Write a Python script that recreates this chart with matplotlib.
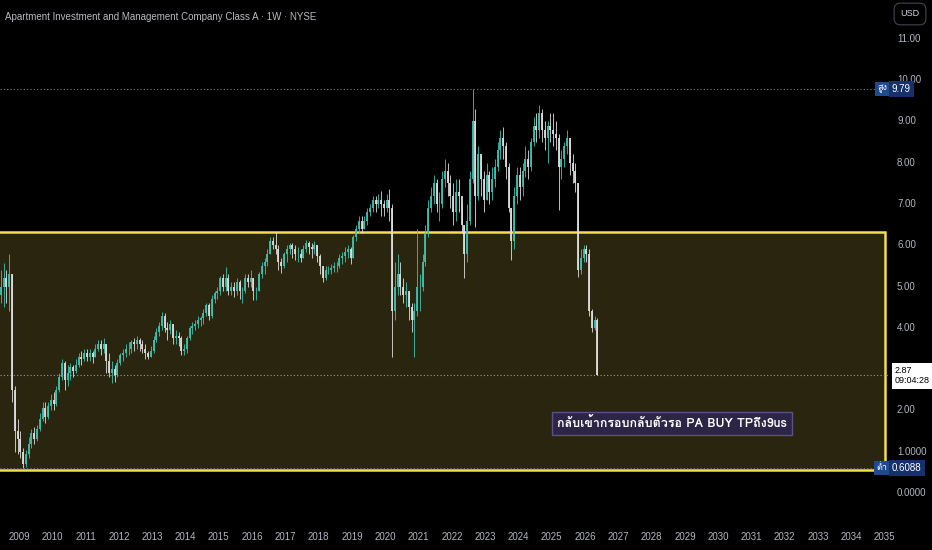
import numpy as np
import matplotlib
matplotlib.use('Agg')
import matplotlib.pyplot as plt
from matplotlib import font_manager
from matplotlib.ft2font import FT2Font
from matplotlib.patches import Rectangle

# weekly chart, kept as one candle per month
start_year = 2008
start_month = 6
first_open = 4.8

closes = np.array([
    5.0, 5.2, 5.0, 5.3, 2.5, 1.5, 1.3,                                   # 2008 Jun-Dec
    1.0, 0.7, 0.95, 1.2, 1.45, 1.3, 1.55, 1.8, 2.05, 1.85, 2.1, 2.25,     # 2009
    2.15, 2.5, 2.8, 3.15, 2.75, 2.9, 3.05, 2.95, 3.1, 3.3, 3.25, 3.4,     # 2010
    3.3, 3.4, 3.3, 3.5, 3.6, 3.5, 3.6, 3.2, 2.9, 3.0, 2.85, 3.15,         # 2011
    3.35, 3.4, 3.5, 3.5, 3.65, 3.6, 3.7, 3.6, 3.5, 3.4, 3.3, 3.45,       # 2012
    3.7, 3.9, 4.05, 4.3, 4.0, 3.95, 4.1, 3.75, 3.8, 3.75, 3.45, 3.5,     # 2013
    3.75, 4.0, 4.05, 4.1, 4.2, 4.25, 4.35, 4.55, 4.3, 4.7, 4.85, 4.9,    # 2014
    5.2, 5.0, 5.2, 4.9, 5.0, 4.9, 5.1, 4.9, 4.9, 5.2, 5.1, 5.2,          # 2015
    4.9, 4.9, 5.3, 5.5, 5.6, 5.8, 6.1, 6.0, 5.9, 5.6, 5.5, 5.8,          # 2016
    5.9, 6.0, 5.9, 5.8, 5.8, 5.7, 5.9, 6.05, 5.95, 5.9, 6.0, 5.75,       # 2017
    5.5, 5.2, 5.4, 5.4, 5.45, 5.5, 5.5, 5.7, 5.75, 5.85, 5.9, 5.7,       # 2018
    6.2, 6.4, 6.6, 6.4, 6.6, 6.8, 6.9, 7.1, 7.0, 7.1, 7.0, 6.9,          # 2019
    7.1, 6.9, 4.4, 5.0, 5.3, 5.0, 4.8, 4.9, 4.5, 4.2, 4.4, 5.0,          # 2020
    5.0, 5.6, 6.3, 6.9, 7.2, 7.5, 7.0, 7.0, 7.6, 7.8, 7.5, 7.2,          # 2021
    6.8, 7.3, 7.2, 6.5, 5.8, 6.6, 7.6, 9.0, 7.2, 8.2, 7.6, 7.1,          # 2022
    7.7, 7.3, 7.6, 7.9, 8.3, 8.6, 8.4, 7.9, 6.9, 6.1, 7.2, 7.7,          # 2023
    7.4, 7.8, 8.1, 7.9, 8.5, 8.9, 8.8, 9.2, 8.8, 8.6, 8.9, 8.8,          # 2024
    8.7, 8.6, 7.9, 8.1, 8.4, 8.6, 8.0, 7.8, 7.5, 5.4, 5.7, 5.9,          # 2025
    5.8, 4.4, 4.0, 4.2, 2.87,                                            # 2026 Jan-May
])
highs = np.array([
    5.4, 5.57, 5.4, 5.79, 5.3, 2.6, 1.8,
    1.5, 1.1, 1.05, 1.35, 1.55, 1.6, 1.65, 1.95, 2.2, 2.2, 2.2, 2.4,
    2.45, 2.6, 2.9, 3.25, 3.2, 3.1, 3.15, 3.1, 3.25, 3.4, 3.45, 3.5,
    3.5, 3.5, 3.45, 3.6, 3.7, 3.7, 3.75, 3.6, 3.4, 3.2, 3.1, 3.25,
    3.4, 3.5, 3.6, 3.65, 3.7, 3.75, 3.8, 3.75, 3.7, 3.6, 3.45, 3.55,
    3.8, 4.0, 4.15, 4.38, 4.35, 4.15, 4.2, 4.1, 3.95, 3.9, 3.8, 3.6,
    3.8, 4.05, 4.15, 4.2, 4.3, 4.3, 4.45, 4.6, 4.6, 4.8, 4.9, 5.0,
    5.25, 5.3, 5.47, 5.3, 5.1, 5.1, 5.2, 5.15, 5.0, 5.3, 5.3, 5.4,
    5.2, 5.0, 5.35, 5.6, 5.7, 5.9, 6.2, 6.2, 6.32, 6.0, 5.7, 5.85,
    6.0, 6.05, 6.05, 6.0, 5.95, 5.9, 6.0, 6.12, 6.1, 6.05, 6.1, 6.0,
    5.8, 5.5, 5.5, 5.5, 5.55, 5.6, 5.6, 5.8, 5.85, 5.95, 6.0, 5.95,
    6.25, 6.5, 6.7, 6.7, 6.7, 6.9, 7.0, 7.2, 7.2, 7.25, 7.31, 7.1,
    7.25, 7.36, 7.0, 5.6, 5.8, 5.6, 5.2, 5.1, 4.9, 4.6, 4.6, 6.4,
    5.3, 5.8, 6.5, 7.1, 7.4, 7.7, 7.6, 7.3, 7.8, 8.1, 8.0, 7.7,
    7.5, 7.6, 7.6, 7.0, 6.5, 7.0, 7.8, 9.79, 9.3, 8.4, 8.2, 7.8,
    8.0, 7.8, 7.9, 8.1, 8.5, 8.8, 8.86, 8.5, 8.0, 6.9, 7.4, 7.9,
    7.9, 8.0, 8.4, 8.3, 8.6, 9.1, 9.2, 9.4, 9.3, 9.0, 9.0, 9.2,
    9.2, 9.0, 8.7, 8.3, 8.5, 8.8, 8.6, 8.2, 8.0, 7.5, 5.9, 6.0,
    6.0, 5.9, 4.45, 4.3, 4.25,
])
lows = np.array([
    4.6, 4.5, 4.6, 4.4, 2.2, 1.0, 0.95,
    0.85, 0.6088, 0.62, 0.85, 1.1, 1.2, 1.25, 1.5, 1.75, 1.7, 1.8, 2.0,
    2.0, 2.1, 2.45, 2.75, 2.5, 2.6, 2.75, 2.8, 2.9, 3.05, 3.1, 3.2,
    3.2, 3.2, 3.15, 3.3, 3.45, 3.35, 3.4, 2.9, 2.8, 2.66, 2.7, 2.8,
    3.1, 3.2, 3.3, 3.35, 3.4, 3.45, 3.5, 3.45, 3.4, 3.25, 3.25, 3.3,
    3.4, 3.65, 3.8, 3.95, 3.9, 3.7, 3.85, 3.6, 3.6, 3.55, 3.34, 3.35,
    3.4, 3.7, 3.85, 3.95, 4.0, 4.05, 4.1, 4.3, 4.2, 4.25, 4.6, 4.7,
    4.8, 4.9, 4.9, 4.8, 4.8, 4.75, 4.8, 4.7, 4.6, 4.85, 5.0, 5.0,
    4.67, 4.67, 4.9, 5.2, 5.3, 5.5, 5.8, 5.9, 5.8, 5.4, 5.33, 5.45,
    5.6, 5.8, 5.7, 5.65, 5.6, 5.6, 5.7, 5.85, 5.8, 5.7, 5.8, 5.6,
    5.3, 5.1, 5.15, 5.3, 5.3, 5.35, 5.35, 5.45, 5.55, 5.6, 5.7, 5.55,
    5.7, 6.1, 6.3, 6.3, 6.4, 6.5, 6.7, 6.8, 6.8, 6.9, 6.7, 6.7,
    6.8, 6.6, 3.29, 4.2, 4.8, 4.8, 4.6, 4.5, 4.2, 3.9, 3.3, 4.3,
    4.4, 4.9, 5.5, 6.2, 6.8, 7.0, 6.8, 6.6, 6.9, 7.4, 7.2, 6.9,
    6.5, 6.6, 6.8, 6.3, 5.2, 5.6, 6.5, 7.5, 6.45, 7.1, 7.2, 6.8,
    7.1, 7.0, 7.1, 7.4, 7.8, 8.1, 8.1, 7.6, 6.8, 5.64, 5.9, 7.0,
    7.1, 7.2, 7.65, 7.6, 7.8, 8.4, 8.5, 8.6, 8.5, 8.3, 8.0, 8.5,
    8.4, 8.3, 6.85, 7.6, 7.9, 8.2, 7.7, 7.5, 7.3, 5.23, 5.3, 5.6,
    5.6, 4.3, 3.9, 3.95, 2.85,
])

year_labels = list(range(2009, 2036))
price_ticks = [0, 1, 2, 3, 4, 5, 6, 7, 8, 9, 10, 11]

title = 'Apartment Investment and Management Company Class A · 1W · NYSE'
note = 'กลับเข้ากรอบกลับตัวรอ PA BUY TPถึง9us'
high_tag = 'สูง'
low_tag = 'ต่ำ'
countdown = '09:04:28'

# yellow zone drawn on the chart
box_top = 6.33
box_bottom = 0.56
box_end = 2035.0
note_x = 2028.6
note_y = 1.69


def thai_family():
    # first installed font that has Thai glyphs
    for f in font_manager.fontManager.ttflist:
        try:
            if 0x0E01 in FT2Font(f.fname).get_charmap():
                return f.name
        except Exception:
            continue
    return 'DejaVu Sans'


def fmt(v):
    return f'{v:.4f}' if v <= 1 else f'{v:.2f}'


thai = thai_family()
plt.rcParams['font.family'] = ['Liberation Sans', 'DejaVu Sans']

fig = plt.figure(figsize=(9.32, 5.5), dpi=100, facecolor='black')
ax = fig.add_axes([0, 28 / 550, 888 / 932, 522 / 550])
ax.set_facecolor('black')
for s in ax.spines.values():
    s.set_visible(False)

t = start_year + (start_month - 1 + np.arange(len(closes)) + 0.5) / 12
opens = np.r_[first_open, closes[:-1]]
colors = np.where(closes >= opens, '#3fc2b0', '#dedede')

ax.add_patch(Rectangle((2007.0, box_bottom), box_end - 2007.0, box_top - box_bottom,
                       facecolor='#29250e', edgecolor='#f3de4c', linewidth=1.8, zorder=1))

ax.vlines(t, lows, highs, colors=colors, linewidth=0.6, zorder=3)
ax.vlines(t, np.minimum(opens, closes), np.maximum(opens, closes),
          colors=colors, linewidth=1.3, zorder=3)

hi = highs.max()
lo = lows.min()
last = closes[-1]
dots = (0, (1, 2))
ax.axhline(hi, color='#787b86', linewidth=0.8, linestyle=dots, zorder=2)
ax.axhline(lo, color='#787b86', linewidth=0.8, linestyle=dots, zorder=2)
ax.axhline(last, color='#9598a1', linewidth=0.8, linestyle=dots, zorder=2)

ax.set_xlim(2008.43, 2035.1)
ax.set_ylim(-0.70, 11.94)

ax.set_xticks(year_labels)
ax.set_xticklabels([str(y) for y in year_labels])
ax.tick_params(axis='x', length=0, pad=7, labelsize=7, labelcolor='#b2b5be')
ax.set_yticks([])

# price scale on the right
ytr = ax.get_yaxis_transform()
for p in price_ticks:
    ax.text(1 + 9 / 888, p, fmt(p), transform=ytr, ha='left', va='center',
            fontsize=7, color='#b2b5be', clip_on=False)

ax.text(1 + 4 / 888, hi, fmt(hi), transform=ytr, ha='left', va='center',
        fontsize=7, color='white', clip_on=False,
        bbox=dict(boxstyle='square,pad=0.3', fc='#16306a', ec='none'))
ax.text(1 - 1 / 888, hi, high_tag, transform=ytr, ha='right', va='center',
        fontsize=6.5, color='white', family=[thai, 'DejaVu Sans'], clip_on=False,
        bbox=dict(boxstyle='square,pad=0.25', fc='#1f4a8f', ec='none'))
ax.text(1 + 4 / 888, lo, fmt(lo), transform=ytr, ha='left', va='center',
        fontsize=7, color='white', clip_on=False,
        bbox=dict(boxstyle='square,pad=0.3', fc='#16306a', ec='none'))
ax.text(1 - 1 / 888, lo, low_tag, transform=ytr, ha='right', va='center',
        fontsize=6.5, color='white', family=[thai, 'DejaVu Sans'], clip_on=False,
        bbox=dict(boxstyle='square,pad=0.25', fc='#1f4a8f', ec='none'))
ax.text(1 + 7 / 888, last + 0.2, f'{fmt(last)}\n{countdown}', transform=ytr,
        ha='left', va='top', fontsize=6.5, color='black', linespacing=1.15, clip_on=False,
        zorder=6, bbox=dict(boxstyle='square,pad=0.35', fc='white', ec='none'))

ax.text(note_x, note_y, note, ha='center', va='center', fontsize=9, fontweight='bold',
        color='white', family=[thai, 'DejaVu Sans'], zorder=5,
        bbox=dict(boxstyle='square,pad=0.4', fc='#2c2545', ec='#5e4f8a', lw=1.0))

fig.text(5 / 932, 1 - 17 / 550, title, ha='left', va='center', fontsize=7, color='#b8bac2')
fig.text(910 / 932, 1 - 14 / 550, 'USD', ha='center', va='center', fontsize=6.5,
         color='#d1d4dc', bbox=dict(boxstyle='round,pad=0.7', fc='black', ec='#434651', lw=0.8))

fig.savefig('out.png', dpi=100, facecolor='black')
